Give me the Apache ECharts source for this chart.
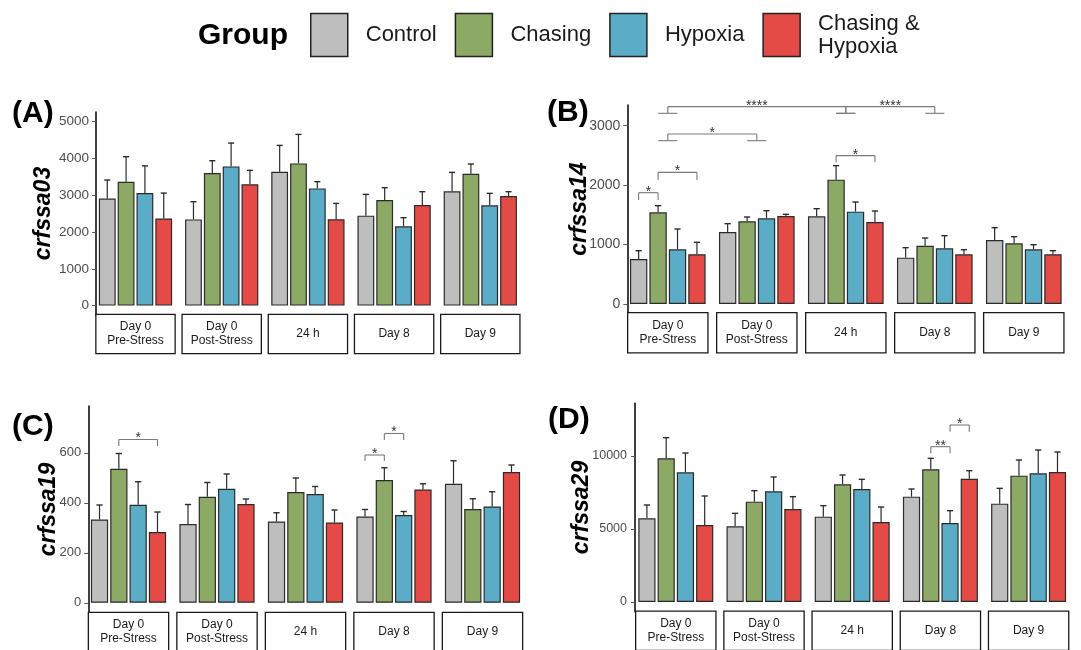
<!DOCTYPE html>
<html><head><meta charset="utf-8">
<script src="https://cdn.jsdelivr.net/npm/echarts@6/dist/echarts.min.js"></script>
<style>html,body{margin:0;padding:0;background:#fff}#c{width:1081px;height:650px}</style>
</head><body><div id="c"></div><script>
// ---------- data ----------
const categories = ['Day 0\nPre-Stress', 'Day 0\nPost-Stress', '24 h', 'Day 8', 'Day 9'];
const groups = ['Control', 'Chasing', 'Hypoxia', 'Chasing & Hypoxia'];
const colors = ['#bebebe', '#8ca966', '#5bacc6', '#e44b47'];

// (A) crfssa03 : means and SE (per group, across categories)
const a_means_control = [2910, 2345, 3641, 2446, 3107];
const a_means_chasing = [3370, 3605, 3868, 2871, 3587];
const a_means_hypoxia = [3060, 3786, 3188, 2156, 2726];
const a_means_chasHyp = [2370, 3297, 2346, 2736, 2980];
const a_se_control = [505, 481, 716, 579, 516];
const a_se_chasing = [680, 335, 788, 336, 263];
const a_se_hypoxia = [740, 634, 182, 235, 327];
const a_se_chasHyp = [690, 381, 434, 362, 118];
const a_ticks = [0, 1000, 2000, 3000, 4000, 5000];
const a_brackets = [];

// (B) crfssa14
const b_means_control = [757, 1211, 1475, 780, 1077];
const b_means_chasing = [1542, 1391, 2092, 981, 1021];
const b_means_hypoxia = [920, 1441, 1554, 937, 920];
const b_means_chasHyp = [836, 1481, 1380, 836, 836];
const b_se_control = [140, 141, 129, 168, 207];
const b_se_chasing = [113, 73, 236, 129, 112];
const b_se_hypoxia = [342, 129, 162, 213, 78];
const b_se_chasHyp = [202, 28, 185, 78, 61];
const b_ticks = [0, 1000, 2000, 3000];
// [cat1, group1 (-1 = whole day), cat2, group2, bracket y, leg end y, label]
const b_brackets = [
  [0, 0, 0, 1, 1873, 1750, '*'],
  [0, 1, 0, 3, 2215, 2086, '*'],
  [0, -1, 1, -1, 2860, 2748, '*'],
  [0, -1, 2, -1, 3320, 3208, '****'],
  [2, -1, 3, -1, 3320, 3208, '****'],
  [2, 1, 2, 3, 2496, 2384, '*']
];

// (C) crfssa19
const c_means_control = [333, 315, 325, 345, 476];
const c_means_chasing = [536, 424, 443, 491, 375];
const c_means_hypoxia = [392, 456, 435, 351, 385];
const c_means_chasHyp = [283, 395, 321, 453, 523];
const c_se_control = [58, 78, 35, 28, 92];
const c_se_chasing = [61, 57, 56, 49, 41];
const c_se_hypoxia = [92, 59, 30, 14, 59];
const c_se_chasHyp = [80, 20, 50, 23, 28];
const c_ticks = [0, 200, 400, 600];
const c_brackets = [
  [0, 1, 0, 3, 653, 627, '*'],
  [3, 0, 3, 1, 591, 567, '*'],
  [3, 1, 3, 2, 677, 651, '*']
];

// (D) crfssa29
const d_means_control = [5731, 5183, 5845, 7215, 6735];
const d_means_chasing = [9840, 6872, 8059, 9087, 8653];
const d_means_hypoxia = [8881, 7580, 7740, 5411, 8813];
const d_means_chasHyp = [5274, 6370, 5479, 8447, 8904];
const d_se_control = [913, 890, 753, 525, 1050];
const d_se_chasing = [1416, 754, 640, 753, 1073];
const d_se_hypoxia = [1324, 982, 662, 845, 1598];
const d_se_chasHyp = [1986, 845, 1028, 548, 1370];
const d_ticks = [0, 5000, 10000];
const d_brackets = [
  [3, 1, 3, 2, 10639, 10183, '**'],
  [3, 2, 3, 3, 12123, 11667, '*']
];

// ---------- layout ----------
const FONT = 'Liberation Sans, Arial, sans-serif';
const BAR_GAP = 0.12;
const panels = [
  { tag: '(A)', gene: 'crfssa03', means: [a_means_control, a_means_chasing, a_means_hypoxia, a_means_chasHyp],
    se: [a_se_control, a_se_chasing, a_se_hypoxia, a_se_chasHyp], ticks: a_ticks, brackets: a_brackets,
    grid: { left: 92.4, top: 112, width: 431, height: 203 }, min: -255, max: 5265, offset: -3.6, nameGap: 41,
    catGap: 0.15, stripW: 78, tagPos: { left: 12, top: 99 }, tickFont: 13.5, tickMargin: 7, stripPad: 5 },
  { tag: '(B)', gene: 'crfssa14', means: [b_means_control, b_means_chasing, b_means_hypoxia, b_means_chasHyp],
    se: [b_se_control, b_se_chasing, b_se_hypoxia, b_se_chasHyp], ticks: b_ticks, brackets: b_brackets,
    grid: { left: 623.3, top: 105, width: 445, height: 208.3 }, min: -156, max: 3348, offset: -4, nameGap: 36,
    catGap: 0.15, stripW: 79, tagPos: { left: 547, top: 98 }, tickFont: 14, tickMargin: 7, stripPad: 5.5 },
  { tag: '(C)', gene: 'crfssa19', means: [c_means_control, c_means_chasing, c_means_hypoxia, c_means_chasHyp],
    se: [c_se_control, c_se_chasing, c_se_hypoxia, c_se_chasHyp], ticks: c_ticks, brackets: c_brackets,
    grid: { left: 84.25, top: 406, width: 442.5, height: 207 }, min: -41, max: 787, offset: -4, nameGap: 28,
    catGap: 0.15, stripW: 79, tagPos: { left: 12, top: 412 }, tickFont: 13, tickMargin: 7, stripPad: 5 },
  { tag: '(D)', gene: 'crfssa29', means: [d_means_control, d_means_chasing, d_means_hypoxia, d_means_chasHyp],
    se: [d_se_control, d_se_chasing, d_se_hypoxia, d_se_chasHyp], ticks: d_ticks, brackets: d_brackets,
    grid: { left: 631.7, top: 403.3, width: 441, height: 208.4 }, min: -664, max: 13610, offset: -3.3, nameGap: 42,
    catGap: 0.15, stripW: 79, tagPos: { left: 548, top: 405 }, tickFont: 12.5, tickMargin: 8, stripPad: 5 }
];

function barWidth(api, catGap) {
  const band = api.size([1, 0])[0];
  return band * (1 - catGap) / (4 + 3 * BAR_GAP);
}
function seg(x1, y1, x2, y2, color, lw) {
  return { type: 'line', shape: { x1, y1, x2, y2 }, style: { stroke: color, lineWidth: lw } };
}
function makeErrRender(catGap) {
  return function (params, api) {
    const c = api.value(0), j = api.value(1), m = api.value(2), u = api.value(3);
    const w = barWidth(api, catGap);
    const p0 = api.coord([c, m]), p1 = api.coord([c, u]);
    const x = p0[0] + w * (1 + BAR_GAP) * (j - 1.5);
    const cw = w * 0.36;
    return { type: 'group', children: [
      seg(x, p0[1], x, p1[1], '#2b2b2b', 1.2),
      seg(x - cw / 2, p1[1], x + cw / 2, p1[1], '#2b2b2b', 1.4)
    ] };
  };
}
function makeBracketRender(list, catGap) {
  return function (params, api) {
    const b = list[params.dataIndex];
    const w = barWidth(api, catGap);
    const xOf = (c, g) => {
      const cx = api.coord([c, 0])[0];
      return g < 0 ? cx : cx + w * (1 + BAR_GAP) * (g - 1.5);
    };
    const x1 = xOf(b[0], b[1]), x2 = xOf(b[2], b[3]);
    const yT = api.coord([0, b[4]])[1], yL = api.coord([0, b[5]])[1];
    const col = '#7a7a7a';
    const ch = [seg(x1, yT, x2, yT, col, 1.1), seg(x1, yT, x1, yL, col, 1.1), seg(x2, yT, x2, yL, col, 1.1)];
    const cap = w * 1.1;
    if (b[1] < 0) ch.push(seg(x1 - cap / 2, yL, x1 + cap / 2, yL, col, 1.1));
    if (b[3] < 0) ch.push(seg(x2 - cap / 2, yL, x2 + cap / 2, yL, col, 1.1));
    ch.push({ type: 'text', style: { text: b[6], x: (x1 + x2) / 2, y: yT + 6, align: 'center',
      verticalAlign: 'bottom', fill: '#333', font: '14px ' + FONT } });
    return { type: 'group', children: ch };
  };
}

const grids = [], xAxes = [], yAxes = [], series = [];
const titles = [{ text: 'Group', left: 198, top: 21, padding: 0,
  textStyle: { fontFamily: FONT, fontSize: 30, fontWeight: 'bold', color: '#000' } }];

panels.forEach((p, i) => {
  grids.push(Object.assign({ outerBoundsMode: 'none', containLabel: false }, p.grid));
  titles.push({ text: p.tag, left: p.tagPos.left, top: p.tagPos.top, padding: 0,
    textStyle: { fontFamily: FONT, fontSize: 30, fontWeight: 'bold', color: '#000' } });
  xAxes.push({
    type: 'category', gridIndex: i, data: categories,
    axisLine: { show: false }, axisTick: { show: false }, splitLine: { show: false },
    axisLabel: {
      interval: 0, margin: 0, width: p.stripW, padding: [p.stripPad, 0, p.stripPad, 0],
      borderColor: '#1a1a1a', borderWidth: 1.3, backgroundColor: '#fff',
      color: '#1a1a1a', fontSize: 12, fontFamily: FONT, align: 'center',
      formatter: v => (v.indexOf('\n') >= 0 ? '{two|' + v + '}' : '{one|' + v + '}'),
      rich: {
        one: { lineHeight: 28, fontSize: 12, fontFamily: FONT, color: '#1a1a1a', align: 'center', width: p.stripW },
        two: { lineHeight: 14, fontSize: 12, fontFamily: FONT, color: '#1a1a1a', align: 'center', width: p.stripW }
      }
    }
  });
  yAxes.push({
    type: 'value', gridIndex: i, min: p.min, max: p.max, offset: p.offset,
    name: p.gene, nameLocation: 'middle', nameGap: p.nameGap, nameRotate: 90, nameMoveOverlap: false,
    nameTextStyle: { fontFamily: FONT, fontSize: 23, fontWeight: 'bold', fontStyle: 'italic', color: '#000' },
    axisLine: { show: true, lineStyle: { color: '#111', width: 1.6 } },
    axisTick: { show: true, length: 4, customValues: p.ticks, lineStyle: { color: '#555', width: 1 } },
    axisLabel: { customValues: p.ticks, margin: p.tickMargin, color: '#4d4d4d', fontSize: p.tickFont, fontFamily: FONT,
      formatter: v => String(Math.round(v)) },
    splitLine: { show: false }
  });
  for (let j = 0; j < 4; j++) {
    series.push({
      type: 'bar', name: groups[j], xAxisIndex: i, yAxisIndex: i, data: p.means[j],
      barGap: (BAR_GAP * 100) + '%', barCategoryGap: (p.catGap * 100) + '%',
      itemStyle: { color: colors[j], borderColor: '#2b2b2b', borderWidth: 1.2 },
      emphasis: { disabled: true }, z: 2, animation: false
    });
  }
  const err = [];
  for (let c = 0; c < categories.length; c++)
    for (let j = 0; j < 4; j++) err.push([c, j, p.means[j][c], p.means[j][c] + p.se[j][c]]);
  series.push({ type: 'custom', xAxisIndex: i, yAxisIndex: i, data: err, renderItem: makeErrRender(p.catGap),
    encode: { x: 0, y: [2, 3] }, z: 3, animation: false, silent: true });
  if (p.brackets.length) {
    series.push({ type: 'custom', xAxisIndex: i, yAxisIndex: i,
      data: p.brackets.map(b => b.slice(0, 6)), renderItem: makeBracketRender(p.brackets, p.catGap),
      encode: { x: [0, 2], y: [4, 5] }, z: 4, animation: false, silent: true, clip: false });
  }
});

const chart = echarts.init(document.getElementById('c'), null, { renderer: 'canvas' });
chart.setOption({
  animation: false,
  backgroundColor: '#fff',
  title: titles,
  legend: {
    data: groups, left: 310, top: 12, padding: 0, icon: 'rect', itemWidth: 37, itemHeight: 43, itemGap: 18,
    selectedMode: false,
    itemStyle: { borderColor: '#222', borderWidth: 1.5 },
    textStyle: { fontFamily: FONT, fontSize: 22, color: '#1a1a1a', lineHeight: 23, padding: [0, 0, 0, 13] },
    formatter: n => (n === 'Chasing & Hypoxia' ? 'Chasing &\nHypoxia' : n)
  },
  grid: grids, xAxis: xAxes, yAxis: yAxes, series: series
});
</script></body></html>
